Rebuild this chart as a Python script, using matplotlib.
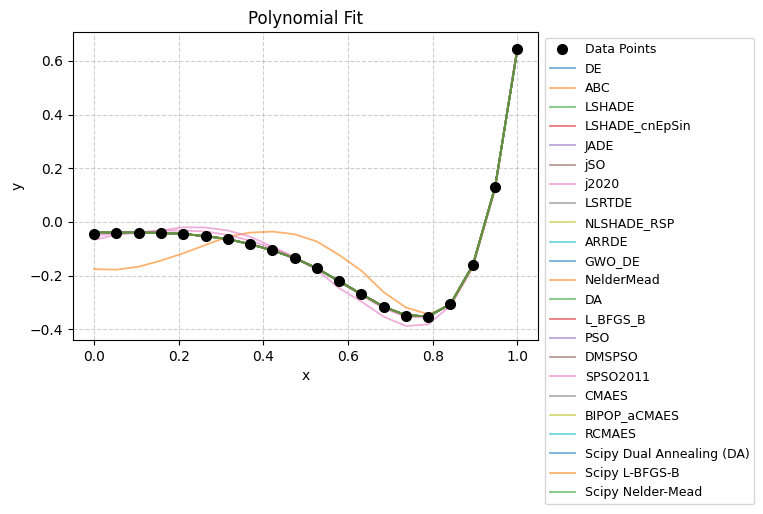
import numpy as np
import matplotlib.pyplot as plt

x = np.linspace(0, 1, 20)
y_data = [-0.046, -0.042, -0.041, -0.042, -0.046, -0.053, -0.064, -0.083, -0.106, -0.135,
          -0.172, -0.221, -0.269, -0.317, -0.350, -0.354, -0.307, -0.161, 0.129, 0.643]

# most optimizers land on (nearly) the same fit
fit_good = [-0.038, -0.040, -0.039, -0.041, -0.045, -0.053, -0.064, -0.083, -0.106, -0.135,
            -0.173, -0.221, -0.269, -0.316, -0.348, -0.352, -0.306, -0.162, 0.128, 0.642]
fit_abc = [-0.176, -0.178, -0.167, -0.144, -0.117, -0.086, -0.055, -0.040, -0.036, -0.046,
           -0.073, -0.123, -0.182, -0.262, -0.319, -0.344, -0.312, -0.170, 0.122, 0.645]
fit_j2020 = [-0.050, -0.045, -0.038, -0.033, -0.032, -0.036, -0.048, -0.070, -0.098, -0.131,
             -0.172, -0.224, -0.274, -0.322, -0.354, -0.356, -0.307, -0.161, 0.127, 0.642]
fit_spso = [-0.067, -0.048, -0.040, -0.032, -0.020, -0.021, -0.032, -0.055, -0.092, -0.133,
            -0.179, -0.247, -0.297, -0.353, -0.388, -0.382, -0.312, -0.168, 0.120, 0.655]

metodos = ["DE", "ABC", "LSHADE", "LSHADE_cnEpSin", "JADE", "jSO", "j2020", "LSRTDE",
           "NLSHADE_RSP", "ARRDE", "GWO_DE", "NelderMead", "DA", "L_BFGS_B", "PSO",
           "DMSPSO", "SPSO2011", "CMAES", "BIPOP_aCMAES", "RCMAES",
           "Scipy Dual Annealing (DA)", "Scipy L-BFGS-B", "Scipy Nelder-Mead"]
ajustes = {"ABC": fit_abc, "j2020": fit_j2020, "SPSO2011": fit_spso}

fig = plt.figure(figsize=(7.63, 5.14), dpi=100)
ax = fig.add_axes([0.0957, 0.3385, 0.610, 0.599])

ax.plot(x, y_data, "ko", ms=7, label="Data Points", zorder=10)
for m in metodos:
    ax.plot(x, ajustes.get(m, fit_good), lw=1.3, alpha=0.6, label=m)

ax.grid(True, linestyle="--", alpha=0.6)
ax.set_title("Polynomial Fit")
ax.set_xlabel("x")
ax.set_ylabel("y")
ax.legend(bbox_to_anchor=(1.0, 1), loc="upper left", fontsize=9)

fig.savefig("out.png")
